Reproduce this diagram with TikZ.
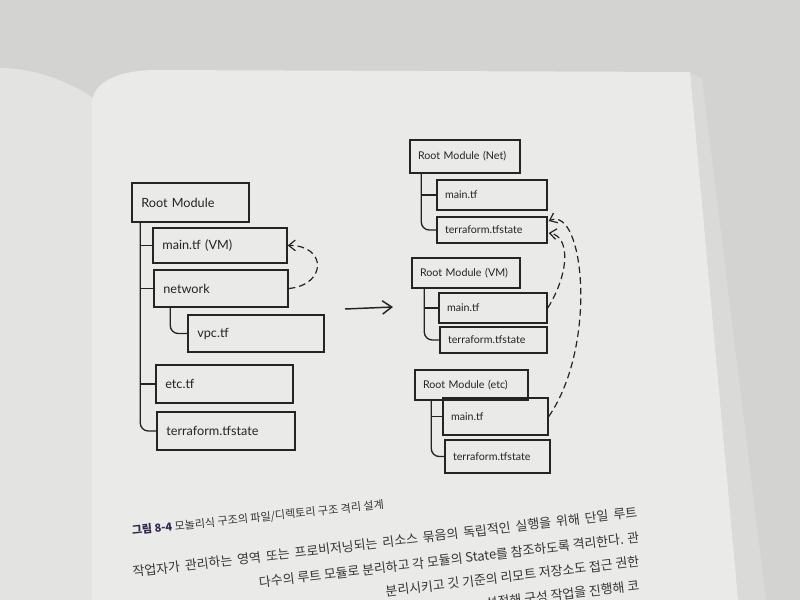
\documentclass[tikz,border=0pt]{standalone}
\usepackage{fontspec}
\setmainfont{Lato}
\newfontfamily\kr{Noto Sans CJK KR}
\usetikzlibrary{arrows.meta,calc}
\definecolor{ink}{HTML}{242424}
\definecolor{marble}{HTML}{D3D3D1}
\definecolor{pageR}{HTML}{EAEAE9}
\definecolor{pageL}{HTML}{E3E3E2}
\definecolor{stack}{HTML}{DADAD8}
\definecolor{bodytext}{HTML}{353535}
\definecolor{capnum}{HTML}{33284A}
\begin{document}
\begin{tikzpicture}[x=0.75pt,y=-0.75pt,
  box/.style={draw=ink, line width=1.1pt, rectangle, inner ysep=0pt, align=left, text=ink},
  bl/.style 2 args={box, inner xsep=7pt, font=\fontsize{9.5}{11}\selectfont,
     minimum width=#1pt, minimum height=#2pt, text width=#1pt-14pt},
  br/.style 2 args={box, inner xsep=6pt, font=\fontsize{8}{10}\selectfont,
     minimum width=#1pt, minimum height=#2pt, text width=#1pt-12pt},
  tree/.style={draw=ink, line width=1pt, rounded corners=6pt},
  dep/.style={draw=ink, line width=0.9pt, dash pattern=on 5pt off 3pt,
     -{Straight Barb[length=5pt,width=8pt]}},
  flow/.style={draw=ink, line width=1.1pt, -{Straight Barb[length=7pt,width=10pt]}},
  bodyline/.style={text=bodytext, font=\kr\fontsize{9.7}{11}\selectfont, inner sep=0pt, rotate=6.8},
  capline/.style={text=bodytext, font=\kr\fontsize{8.3}{10}\selectfont, inner sep=0pt, rotate=6}
]
\useasboundingbox (0,0) rectangle (800,600);
% background: marble, pages
\fill[marble] (0,0) rectangle (800,600);
\fill[pageL] (0,68) .. controls (35,68) and (70,82) .. (93,98) -- (93,600) -- (0,600) -- cycle;
\fill[stack] (688,72) -- (702,78) -- (766,600) -- (736,600) -- cycle;
\fill[pageR] (92,600) -- (92,104) .. controls (92,86) and (110,72) .. (150,70)
   -- (690,72) -- (738,600) -- cycle;

% ---------- left: monolithic structure ----------
\node[bl={87.75}{29.25}] (rootL) at (190.5,202.5) {Root Module};
\node[bl={100.5}{26.25}] (mainL) at (220,245.5) {main.tf (VM)};
\node[bl={100.5}{27.75}] (netL)  at (221,288.5) {network};
\node[bl={102}{27.75}]   (vpcL)  at (256,333.5) {vpc.tf};
\node[bl={102.75}{28.5}] (etcL)  at (224.5,384) {etc.tf};
\node[bl={103.5}{28.5}]  (tfsL)  at (226,431)   {terraform.tfstate};

\coordinate (tL) at ($(rootL.south west)+(9,0)$);
\draw[tree] (tL) |- (tfsL.west);
\draw[tree] (tL |- mainL.west) -- (mainL.west);
\draw[tree] (tL |- netL.west) -- (netL.west);
\draw[tree] (tL |- etcL.west) -- (etcL.west);
\coordinate (tNet) at ($(netL.south west)+(17,0)$);
\draw[tree] (tNet) |- (vpcL.west);

\draw[dep] (netL.east) .. controls (327,285) and (327,245) .. (mainL.east);

% ---------- middle arrow ----------
\coordinate (a1) at (345,309);
\coordinate (a2) at (393,307);
\draw[flow] (a1) -- (a2);

% ---------- right: isolated root modules ----------
\node[br={82.5}{24.75}]  (rootN) at (465,156.5) {Root Module (Net)};
\node[br={82.5}{22.5}]   (mainN) at (492,195)   {main.tf};
\node[br={82.5}{19.5}]   (tfsN)  at (492,230)   {terraform.tfstate};

\node[br={81}{22.5}]     (rootV) at (466,273)   {Root Module (VM)};
\node[br={81}{22.5}]     (mainV) at (493,308)   {main.tf};
\node[br={80.25}{19.5}]  (tfsV)  at (493.5,340) {terraform.tfstate};

\node[br={84.75}{22.5}]  (rootE) at (471.5,385) {Root Module (etc)};
\node[br={78.75}{27.75}] (mainE) at (495.5,416.5) {main.tf};
\node[br={78.75}{24.75}] (tfsE)  at (497.5,456.5) {terraform.tfstate};

\coordinate (tN) at ($(rootN.south west)+(12,0)$);
\draw[tree] (tN) |- (tfsN.west);
\draw[tree] (tN |- mainN.west) -- (mainN.west);
\coordinate (tV) at ($(rootV.south west)+(13,0)$);
\draw[tree] (tV) |- (tfsV.west);
\draw[tree] (tV |- mainV.west) -- (mainV.west);
\coordinate (tE) at ($(rootE.south west)+(17,0)$);
\draw[tree] (tE) |- (tfsE.west);
\draw[tree] (tE |- mainE.west) -- (mainE.west);

\draw[dep] (mainV.east) .. controls (570,272) and (570,236) .. ($(tfsN.east)+(1,3)$);
\draw[dep] (mainE.east) .. controls (598,345) and (584,205) .. ($(tfsN.east)+(1,-9)$);

% ---------- caption and body text ----------
\node[capline, anchor=base west] (cap) at (132,535)
  {{\color{capnum}\bfseries 그림 8-4}\ 모놀리식 구조의 파일/디렉토리 구조 격리 설계};
\node[bodyline, anchor=base west] (b1) at (133,577)
  {\makebox[381pt][s]{작업자가 관리하는 영역 또는 프로비저닝되는 리소스 묶음의 독립적인 실행을 위해 단일 루트}};
\node[bodyline, anchor=base east] (b2) at (640,542)
  {다수의 루트 모듈로 분리하고 각 모듈의 State를 참조하도록 격리한다. 관};
\node[bodyline, anchor=base east] (b3) at (640,566)
  {분리시키고 깃 기준의 리모트 저장소도 접근 권한};
\node[bodyline, anchor=base east] (b4) at (640,590)
  {설정해 구성 작업을 진행해 코};
\end{tikzpicture}
\end{document}
